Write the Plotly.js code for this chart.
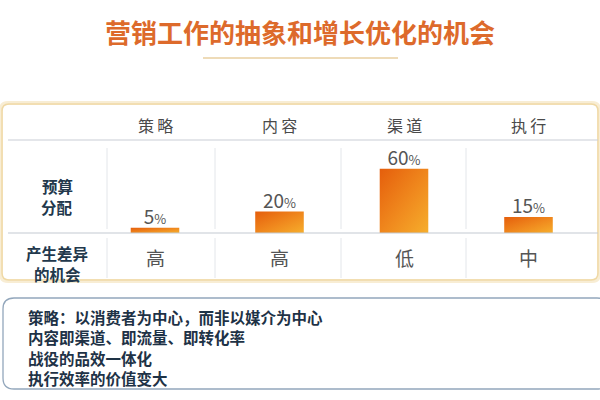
<!DOCTYPE html>
<html>
<head>
<meta charset="utf-8">
<script src="https://cdn.plot.ly/plotly-3.0.1.min.js"></script>
<style>
html,body{margin:0;padding:0;background:#fff;}
#chart{width:600px;height:400px;}
</style>
</head>
<body>
<div id="chart"></div>
<script>
// ---- data ----
const titleText = '营销工作的抽象和增长优化的机会';
const categories = ['策略', '内容', '渠道', '执行'];
const budgetShare = [5, 20, 60, 15];
const diffChance = ['高', '高', '低', '中'];
const rowLabelBudget = ['预算', '分配'];
const rowLabelChance = ['产生差异', '的机会'];
const notes = [
  '策略：以消费者为中心，而非以媒介为中心',
  '内容即渠道、即流量、即转化率',
  '战役的品效一体化',
  '执行效率的价值变大'
];

// ---- helpers (pixel -> paper) ----
const W = 600, H = 400;
const px = v => v / W;
const py = v => 1 - v / H;
const FONT = '"Noto Sans CJK SC", "Noto Sans", sans-serif';

function roundRect(x0, y0, x1, y1, r) {
  const X0 = px(x0), X1 = px(x1), Y0 = py(y0), Y1 = py(y1);
  const rx = r / W, ry = r / H;
  return `M${X0 + rx},${Y0} L${X1 - rx},${Y0} Q${X1},${Y0} ${X1},${Y0 - ry} ` +
         `L${X1},${Y1 + ry} Q${X1},${Y1} ${X1 - rx},${Y1} L${X0 + rx},${Y1} ` +
         `Q${X0},${Y1} ${X0},${Y1 + ry} L${X0},${Y0 - ry} Q${X0},${Y0} ${X0 + rx},${Y0} Z`;
}

const shapes = [];
// outer gold box (soft shadow + border)
shapes.push({type:'path', xref:'paper', yref:'paper', path: roundRect(1, 103, 599, 281, 7),
  line:{color:'rgba(240,215,160,0.45)', width:4}, fillcolor:'rgba(0,0,0,0)', layer:'below'});
shapes.push({type:'path', xref:'paper', yref:'paper', path: roundRect(2, 104, 598, 280, 7),
  line:{color:'#EFD9A6', width:1.5}, fillcolor:'rgba(0,0,0,0)', layer:'below'});
// title underline
shapes.push({type:'line', xref:'paper', yref:'paper', x0:px(203), x1:px(398), y0:py(58), y1:py(58),
  line:{color:'#E9CFA0', width:1.5}});
// header separator
shapes.push({type:'line', xref:'paper', yref:'paper', x0:px(8), x1:px(598), y0:py(140), y1:py(140),
  line:{color:'#C9CED6', width:1.2}});
// baseline
shapes.push({type:'line', xref:'paper', yref:'paper', x0:px(8), x1:px(598), y0:py(233), y1:py(233),
  line:{color:'#C4C9D1', width:1.2}});
// vertical separators
[107, 215, 341, 466].forEach(x => {
  shapes.push({type:'line', xref:'paper', yref:'paper', x0:px(x), x1:px(x), y0:py(148), y1:py(229),
    line:{color:'#E3E6EA', width:1}});
  shapes.push({type:'line', xref:'paper', yref:'paper', x0:px(x), x1:px(x), y0:py(238), y1:py(278),
    line:{color:'#E3E6EA', width:1}});
});
// notes box
shapes.push({type:'path', xref:'paper', yref:'paper', path: roundRect(3, 298, 608, 389, 11),
  line:{color:'#93A7BC', width:1.3}, fillcolor:'rgba(0,0,0,0)'});

const annotations = [];
// header labels + bottom row values
categories.forEach((c, i) => {
  annotations.push({x: c, xref:'x', y: py(125), yref:'paper', text: c.split('').join('\u2009'), showarrow:false,
    font:{family:FONT, size:16, color:'#4A4A4A'}, xanchor:'center', yanchor:'middle'});
  annotations.push({x: c, xref:'x', y: py(257), yref:'paper', text: diffChance[i], showarrow:false,
    font:{family:FONT, size:19, color:'#555555'}, xanchor:'center', yanchor:'middle'});
});
// row labels, one annotation per line
function lineLabel(t, x, y, size, color, anchor, h) {
  return {x: px(x), xref:'paper', y: py(y), yref:'paper', text: '<b>' + t + '</b>', showarrow:false,
    font:{family:FONT, size:size, color:color}, xanchor:anchor, yanchor:'middle',
    align: anchor === 'left' ? 'left' : 'center', height: h, valign:'middle'};
}
annotations.push(lineLabel(rowLabelBudget[0], 57, 186, 15.5, '#22384C', 'center', 20));
annotations.push(lineLabel(rowLabelBudget[1], 57, 206.5, 15.5, '#22384C', 'center', 20));
annotations.push(lineLabel(rowLabelChance[0], 57, 253.2, 15.5, '#22384C', 'center', 20));
annotations.push(lineLabel(rowLabelChance[1], 57, 273.7, 15.5, '#22384C', 'center', 20));
// notes
notes.forEach((t, i) => {
  annotations.push(lineLabel(t, 26, 317 + i * 20.4, 15.5, '#1E3246', 'left', 20));
});

const trace = {
  type:'bar', x: categories, y: budgetShare, width: 0.39,
  marker:{color:'#EE8A1C', line:{width:0}},
  text: budgetShare.map(v => v + '<span style="font-size:13px">%</span>'),
  textposition:'outside', constraintext:'none', cliponaxis:false,
  textfont:{family:FONT, size:19, color:'#555555'},
  hoverinfo:'skip'
};

const layout = {
  width: W, height: H,
  margin:{l:0, r:0, t:0, b:0},
  paper_bgcolor:'#ffffff', plot_bgcolor:'rgba(0,0,0,0)',
  showlegend:false,
  title:{text:'<b>' + titleText + '</b>', x:0.5, xanchor:'center', xref:'paper',
    y: py(34), yanchor:'middle', yref:'paper',
    font:{family:FONT, size:26, color:'#DD6A2B'}},
  xaxis:{type:'category', range:[-0.5, 3.5], domain:[92.75/W, 590.75/W],
    showgrid:false, zeroline:false, showticklabels:false, showline:false, ticks:'', fixedrange:true},
  yaxis:{range:[0, 75], domain:[py(233), py(152.75)], showgrid:false, zeroline:false,
    showticklabels:false, showline:false, ticks:'', fixedrange:true},
  shapes: shapes,
  annotations: annotations
};

Plotly.newPlot('chart', [trace], layout, {displayModeBar:false, staticPlot:true}).then(gd => {
  const svg = gd.querySelector('.main-svg');
  let defs = svg.querySelector('defs');
  const NS = 'http://www.w3.org/2000/svg';
  if (!defs) { defs = document.createElementNS(NS, 'defs'); svg.insertBefore(defs, svg.firstChild); }
  const grad = document.createElementNS(NS, 'linearGradient');
  grad.setAttribute('id', 'barGrad');
  grad.setAttribute('x1', '0'); grad.setAttribute('y1', '0');
  grad.setAttribute('x2', '1'); grad.setAttribute('y2', '1');
  [['0', '#E55E0C'], ['0.55', '#F08A1E'], ['1', '#F6AE2C']].forEach(([o, c]) => {
    const s = document.createElementNS(NS, 'stop');
    s.setAttribute('offset', o); s.setAttribute('stop-color', c);
    grad.appendChild(s);
  });
  defs.appendChild(grad);
  gd.querySelectorAll('.bars .point path').forEach(p => { p.style.fill = 'url(#barGrad)'; });
  // nudge bar value labels closer to bar tops, as in the reference
  gd.querySelectorAll('.bars .point text').forEach(t => {
    const tr = t.getAttribute('transform') || '';
    t.setAttribute('transform', 'translate(0,4) ' + tr);
  });
});
</script>
</body>
</html>
